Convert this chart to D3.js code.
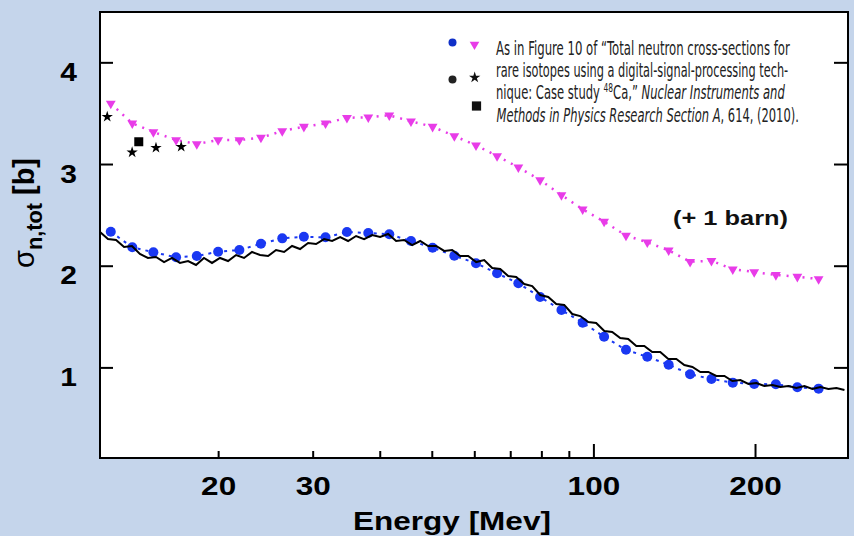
<!DOCTYPE html>
<html><head><meta charset="utf-8">
<script src="https://cdn.jsdelivr.net/npm/d3@7/dist/d3.min.js"></script>
<style>html,body{margin:0;padding:0;background:#c5d5eb;} svg{display:block}</style>
</head><body><svg id="c" width="854" height="536"></svg>
<script>
// ---- data ----
const energyModel = [12.62, 13.84, 15.15, 16.70, 18.25, 20.0, 21.91, 24.03, 26.33, 28.89, 31.70, 34.75, 38.08, 41.67, 45.73, 50.17, 55.08, 60.44, 66.16, 72.48, 79.56, 87.19, 95.50, 104.7, 115.0, 126.0, 138.1, 151.4, 165.9, 181.8, 199.3, 218.7, 239.8, 262.7];
const sigmaModelBlue = [2.334, 2.181, 2.132, 2.083, 2.095, 2.138, 2.154, 2.216, 2.269, 2.285, 2.279, 2.331, 2.322, 2.309, 2.243, 2.177, 2.098, 2.024, 1.925, 1.827, 1.692, 1.564, 1.440, 1.302, 1.173, 1.104, 1.026, 0.932, 0.886, 0.850, 0.837, 0.834, 0.804, 0.791];
const sigmaModelMagenta = [2.595, 2.400, 2.315, 2.236, 2.197, 2.236, 2.236, 2.259, 2.325, 2.367, 2.400, 2.455, 2.459, 2.479, 2.420, 2.367, 2.275, 2.184, 2.079, 1.968, 1.843, 1.695, 1.555, 1.433, 1.297, 1.230, 1.151, 1.039, 1.049, 0.965, 0.938, 0.909, 0.892, 0.869];
const offsetMagenta = 1; // "(+ 1 barn)"
const energyExp = [12.05, 12.47, 12.91, 13.36, 13.82, 14.30, 14.80, 15.32, 15.86, 16.41, 16.98, 17.58, 18.19, 18.82, 19.48, 20.16, 20.87, 21.60, 22.35, 23.13, 23.94, 24.78, 25.64, 26.54, 27.46, 28.42, 29.42, 30.44, 31.51, 32.61, 33.75, 34.92, 36.14, 37.40, 38.71, 40.06, 41.46, 42.91, 44.41, 45.96, 47.57, 49.23, 50.95, 52.73, 54.57, 56.48, 58.45, 60.49, 62.60, 64.79, 67.05, 69.39, 71.82, 74.33, 76.92, 79.61, 82.39, 85.27, 88.24, 91.33, 94.52, 97.82, 101.2, 104.8, 108.4, 112.2, 116.1, 120.2, 124.4, 128.7, 133.2, 137.9, 142.7, 147.7, 152.9, 158.2, 163.7, 169.4, 175.4, 181.5, 187.8, 194.4, 201.2, 208.2, 215.5, 223.0, 230.8, 238.8, 247.2, 255.8, 264.8, 274.0, 283.6, 293.5];
const sigmaExp = [2.331, 2.263, 2.253, 2.184, 2.194, 2.115, 2.076, 2.086, 2.036, 2.076, 2.027, 2.046, 2.007, 2.076, 2.027, 2.076, 2.046, 2.105, 2.076, 2.135, 2.105, 2.095, 2.154, 2.135, 2.194, 2.164, 2.223, 2.213, 2.262, 2.243, 2.282, 2.243, 2.292, 2.262, 2.302, 2.282, 2.312, 2.243, 2.253, 2.203, 2.243, 2.194, 2.194, 2.145, 2.154, 2.095, 2.095, 2.036, 2.056, 1.977, 1.968, 1.899, 1.889, 1.820, 1.800, 1.712, 1.692, 1.623, 1.614, 1.525, 1.505, 1.446, 1.437, 1.358, 1.348, 1.289, 1.279, 1.210, 1.210, 1.151, 1.151, 1.083, 1.083, 1.024, 1.004, 0.955, 0.955, 0.916, 0.916, 0.866, 0.876, 0.837, 0.847, 0.817, 0.827, 0.807, 0.817, 0.797, 0.817, 0.788, 0.807, 0.788, 0.797, 0.778];
const energyStars = [12.43, 13.83, 15.32, 17.07];
const sigmaStars = [2.465, 2.115, 2.160, 2.170];
const energySquare = [14.23];
const sigmaSquare = [2.219];
const xTickMinor = [20, 30, 40, 50, 60, 70, 80, 90];
const xTickMajor = [100, 200];
const xTickLabels = [20, 30, 100, 200];
const yTicks = [1, 2, 3, 4];

// ---- drawing ----
const svg = d3.select('#c');
const L = 100, R = 848, T = 12, B = 458;
const x = d3.scaleLog().domain([12.05, 298]).range([L, R]);
const y = d3.scaleLinear().domain([0.109, 4.495]).range([B, T]);
const STRETCH = 1.26;
const FONT = "'Liberation Sans', Arial, Helvetica, sans-serif";
const NARROW = "'Liberation Sans Narrow', 'DejaVu Sans Condensed', 'Liberation Sans', sans-serif";
const BLUE = '#1a38f2', MAG = '#e83ce8';

svg.append('rect').attr('width', 854).attr('height', 536).attr('fill', '#c5d5eb');
svg.append('rect').attr('x', L).attr('y', T).attr('width', R - L).attr('height', B - T).attr('fill', '#fff');

function stretch(sel, k) {
  sel.each(function () {
    const w = this.getComputedTextLength();
    d3.select(this).attr('textLength', w * k).attr('lengthAdjust', 'spacingAndGlyphs');
  });
}
function styleAxis(g) {
  g.select('.domain').remove();
  g.selectAll('.tick line').attr('stroke', '#000').attr('stroke-width', 2);
  g.selectAll('text').attr('font-family', FONT).attr('font-weight', 'bold').attr('font-size', 25).attr('fill', '#000');
}

// x axis ticks
svg.append('g').attr('transform', `translate(0,${B})`)
  .call(d3.axisBottom(x).tickValues(xTickMinor).tickSize(-7).tickSizeOuter(0).tickFormat(''))
  .call(styleAxis);
svg.append('g').attr('transform', `translate(0,${B})`)
  .call(d3.axisBottom(x).tickValues(xTickMajor).tickSize(-14).tickSizeOuter(0).tickFormat(''))
  .call(styleAxis);
const xl = svg.append('g').attr('transform', `translate(0,${B})`)
  .call(d3.axisBottom(x).tickValues(xTickLabels).tickSize(0).tickPadding(19).tickSizeOuter(0).tickFormat(d3.format('d')))
  .call(styleAxis);
xl.selectAll('.tick line').remove();
stretch(xl.selectAll('text'), STRETCH);

// y axes
const yl = svg.append('g').attr('transform', `translate(${L},0)`)
  .call(d3.axisLeft(y).tickValues(yTicks).tickSize(-13).tickPadding(23).tickSizeOuter(0).tickFormat(d3.format('d')))
  .call(styleAxis);
yl.selectAll('text').attr('dy', '0.72em');
stretch(yl.selectAll('text'), 1.2);
svg.append('g').attr('transform', `translate(${R},0)`)
  .call(d3.axisRight(y).tickValues(yTicks).tickSize(-14).tickSizeOuter(0).tickFormat(''))
  .call(styleAxis);

// frame
svg.append('rect').attr('x', L).attr('y', T).attr('width', R - L).attr('height', B - T)
  .attr('fill', 'none').attr('stroke', '#000').attr('stroke-width', 2);

// magenta model (+1 barn)
const magData = energyModel.map((e, i) => [e, sigmaModelMagenta[i] + offsetMagenta]);
const line = d3.line().x(d => x(d[0])).y(d => y(d[1]));
svg.append('path').datum(magData).attr('d', line).attr('fill', 'none')
  .attr('stroke', MAG).attr('stroke-width', 2.5).attr('stroke-dasharray', '2,6');
svg.append('g').selectAll('path').data(magData).join('path')
  .attr('d', d3.symbol(d3.symbolTriangle, 42))
  .attr('transform', d => `translate(${x(d[0])},${y(d[1])}) rotate(180)`)
  .attr('fill', MAG);

// blue model
const blueData = energyModel.map((e, i) => [e, sigmaModelBlue[i]]);
svg.append('path').datum(blueData).attr('d', line).attr('fill', 'none')
  .attr('stroke', BLUE).attr('stroke-width', 2).attr('stroke-dasharray', '3,5');
svg.append('g').selectAll('circle').data(blueData).join('circle')
  .attr('cx', d => x(d[0])).attr('cy', d => y(d[1])).attr('r', 5).attr('fill', BLUE);

// experimental line
const expData = energyExp.map((e, i) => [e, sigmaExp[i]]);
svg.append('path').datum(expData).attr('d', line)
  .attr('fill', 'none').attr('stroke', '#000').attr('stroke-width', 2).attr('stroke-linejoin', 'miter');

// stars & square (+1 barn)
svg.append('g').selectAll('path').data(energyStars.map((e, i) => [e, sigmaStars[i] + offsetMagenta])).join('path')
  .attr('d', d3.symbol(d3.symbolStar, 40))
  .attr('transform', d => `translate(${x(d[0])},${y(d[1])})`).attr('fill', '#000');
svg.append('g').selectAll('path').data(energySquare.map((e, i) => [e, sigmaSquare[i] + offsetMagenta])).join('path')
  .attr('d', d3.symbol(d3.symbolSquare, 81))
  .attr('transform', d => `translate(${x(d[0])},${y(d[1])})`).attr('fill', '#000');

// legend markers
svg.append('circle').attr('cx', 452.5).attr('cy', 42.5).attr('r', 4).attr('fill', '#1030c8');
svg.append('path').attr('d', d3.symbol(d3.symbolTriangle, 40)).attr('transform', 'translate(474.5,44.5) rotate(180)').attr('fill', MAG);
svg.append('circle').attr('cx', 452.5).attr('cy', 79.5).attr('r', 4).attr('fill', '#222');
svg.append('path').attr('d', d3.symbol(d3.symbolStar, 40)).attr('transform', 'translate(474.7,77.5)').attr('fill', '#111');
svg.append('path').attr('d', d3.symbol(d3.symbolSquare, 85)).attr('transform', 'translate(476.5,106)').attr('fill', '#111');

// legend text: each line compressed horizontally to its measured width
const lg = svg.append('g').attr('font-family', NARROW).attr('font-size', 20).attr('fill', '#222');
function fitLine(t, x0, y0, w) {
  const nat = t.node().getComputedTextLength();
  t.attr('transform', `translate(${x0},${y0}) scale(${w / nat},1)`);
}
const l1 = lg.append('text').text('As in Figure 10 of \u201CTotal neutron cross-sections for');
fitLine(l1, 496, 55, 294);
const l2 = lg.append('text').text('rare isotopes using a digital-signal-processing tech-');
fitLine(l2, 496, 77.2, 292.5);
const l3 = lg.append('text');
l3.append('tspan').text('nique: Case study ');
l3.append('tspan').attr('font-size', 13).attr('dy', -7).text('48');
l3.append('tspan').attr('dy', 7).text('Ca,\u201D ');
l3.append('tspan').attr('font-style', 'italic').text('Nuclear Instruments and');
fitLine(l3, 496, 99.4, 289);
const l4 = lg.append('text');
l4.append('tspan').attr('font-style', 'italic').text('Methods in Physics Research Section A');
l4.append('tspan').text(', 614, (2010).');
fitLine(l4, 496.5, 121.6, 302.5);

// (+ 1 barn)
svg.append('text').attr('x', 673).attr('y', 225).attr('font-family', FONT).attr('font-weight', 'bold')
  .attr('font-size', 21).attr('fill', '#111').text('(+ 1 barn)')
  .attr('textLength', 115).attr('lengthAdjust', 'spacingAndGlyphs');

// axis titles
const xt = svg.append('text').attr('x', 452).attr('y', 530).attr('text-anchor', 'middle')
  .attr('font-family', FONT).attr('font-weight', 'bold').attr('font-size', 25).attr('fill', '#000').text('Energy [Mev]');
stretch(xt, STRETCH);

const yt = svg.append('text').attr('transform', 'translate(34,268) scale(1.2,1) rotate(-90)')
  .attr('font-family', FONT).attr('font-size', 24).attr('fill', '#000');
yt.append('tspan').text('\u03C3');
yt.append('tspan').attr('font-size', 18).attr('font-weight', 'bold').attr('dy', 7).text('n,tot');
yt.append('tspan').attr('font-weight', 'bold').attr('dy', -7).text(' [b]');
yt.attr('textLength', 110).attr('lengthAdjust', 'spacingAndGlyphs');
</script></body></html>
